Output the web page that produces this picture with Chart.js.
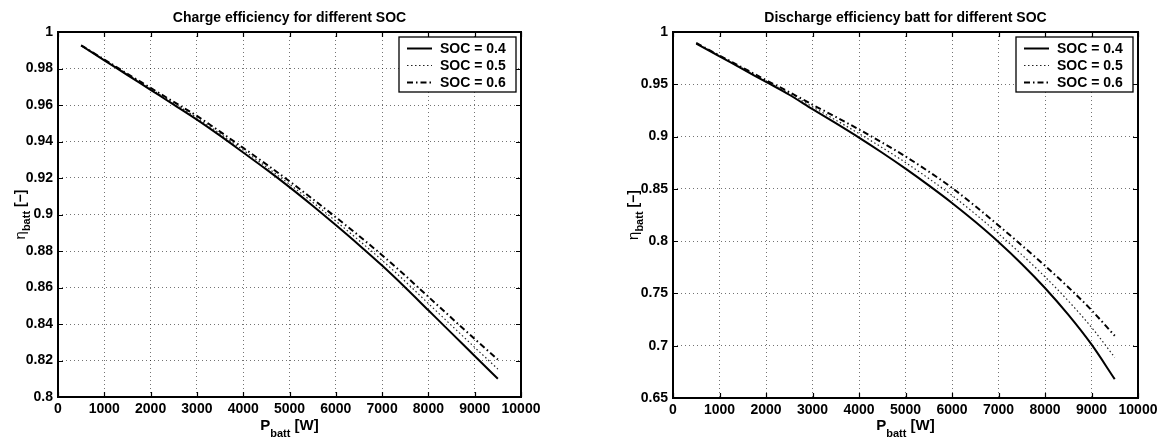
<!DOCTYPE html>
<html>
<head>
<meta charset="utf-8">
<script src="https://cdn.jsdelivr.net/npm/chart.js@4.4.0/dist/chart.umd.min.js"></script>
<style>
  html, body { margin: 0; padding: 0; background: #fff; }
  #wrap { position: relative; width: 1168px; height: 438px; }
  #wrap canvas { position: absolute; top: 0; }
</style>
</head>
<body>
<div id="wrap">
  <canvas id="chargeChart" width="584" height="438" style="left:0"></canvas>
  <canvas id="dischargeChart" width="584" height="438" style="left:584px"></canvas>
</div>
<script>
// battery power [W]
const powerW = [500, 1000, 1500, 2000, 2500, 3000, 3500, 4000, 4500, 5000,
                5500, 6000, 6500, 7000, 7500, 8000, 8500, 9000, 9500];

// charge efficiency per state of charge
const chargeSoc04 = [0.9926, 0.9845, 0.9764, 0.9683, 0.9602, 0.9520, 0.9432, 0.9340, 0.9247, 0.9150,
                     0.9048, 0.8942, 0.8833, 0.8720, 0.8600, 0.8475, 0.8350, 0.8225, 0.8100];
const chargeSoc05 = [0.9927, 0.9847, 0.9768, 0.9689, 0.9610, 0.9530, 0.9443, 0.9353, 0.9261, 0.9166,
                     0.9067, 0.8964, 0.8858, 0.8749, 0.8633, 0.8512, 0.8392, 0.8272, 0.8153];
const chargeSoc06 = [0.9927, 0.9849, 0.9771, 0.9694, 0.9617, 0.9540, 0.9454, 0.9365, 0.9275, 0.9182,
                     0.9085, 0.8985, 0.8883, 0.8777, 0.8665, 0.8549, 0.8433, 0.8318, 0.8205];

// discharge efficiency per state of charge
const dischargeSoc04 = [0.9890, 0.9767, 0.9645, 0.9522, 0.9400, 0.9262, 0.9128, 0.8990, 0.8845, 0.8693,
                        0.8533, 0.8365, 0.8185, 0.7992, 0.7782, 0.7552, 0.7297, 0.7012, 0.6680];
const dischargeSoc05 = [0.9893, 0.9771, 0.9652, 0.9531, 0.9413, 0.9284, 0.9158, 0.9029, 0.8894, 0.8752,
                        0.8599, 0.8438, 0.8260, 0.8071, 0.7871, 0.7659, 0.7429, 0.7176, 0.6888];
const dischargeSoc06 = [0.9895, 0.9775, 0.9658, 0.9540, 0.9425, 0.9305, 0.9188, 0.9068, 0.8942, 0.8810,
                        0.8665, 0.8510, 0.8335, 0.8150, 0.7960, 0.7765, 0.7560, 0.7340, 0.7095];

const socLabels = ['SOC = 0.4', 'SOC = 0.5', 'SOC = 0.6'];

// axis ticks
const powerTicks = [0, 1000, 2000, 3000, 4000, 5000, 6000, 7000, 8000, 9000, 10000];
const chargeTicks = [0.8, 0.82, 0.84, 0.86, 0.88, 0.9, 0.92, 0.94, 0.96, 0.98, 1];
const dischargeTicks = [0.65, 0.7, 0.75, 0.8, 0.85, 0.9, 0.95, 1];

const FONT = "'Liberation Sans', Arial, Helvetica, sans-serif";

// line styles: solid, dotted, dash-dot
const lineStyles = [
  { color: '#000', width: 2, dash: [] },
  { color: '#222', width: 1.2, dash: [1.5, 2.5] },
  { color: '#000', width: 2, dash: [6, 3, 1.5, 3] }
];

// draw a run of text pieces (base text + subscript) centred on cx
function drawPieces(ctx, pieces, cx, baseY) {
  let total = 0;
  pieces.forEach(p => { ctx.font = p.font; p.w = ctx.measureText(p.text).width; total += p.w; });
  let x = cx - total / 2;
  ctx.textAlign = 'left';
  ctx.textBaseline = 'alphabetic';
  pieces.forEach(p => {
    ctx.font = p.font;
    ctx.fillText(p.text, x, baseY + (p.dy || 0));
    x += p.w;
  });
}

const matlabAxes = {
  id: 'matlabAxes',
  afterDraw(chart, args, o) {
    const { ctx, chartArea: a, scales: { x, y } } = chart;
    ctx.save();
    ctx.strokeStyle = '#000';
    ctx.fillStyle = '#000';

    // tick marks pointing into the plot on all four sides
    ctx.lineWidth = 1.2;
    ctx.beginPath();
    x.ticks.forEach(t => {
      const px = Math.round(x.getPixelForValue(t.value)) + 0.5;
      ctx.moveTo(px, a.bottom); ctx.lineTo(px, a.bottom - 5);
      ctx.moveTo(px, a.top); ctx.lineTo(px, a.top + 5);
    });
    y.ticks.forEach(t => {
      const py = Math.round(y.getPixelForValue(t.value)) + 0.5;
      ctx.moveTo(a.left, py); ctx.lineTo(a.left + 5, py);
      ctx.moveTo(a.right, py); ctx.lineTo(a.right - 5, py);
    });
    ctx.stroke();

    // box
    ctx.lineWidth = 2;
    ctx.strokeRect(a.left, a.top, a.right - a.left, a.bottom - a.top);

    // title
    ctx.font = 'bold 14px ' + FONT;
    ctx.textAlign = 'center';
    ctx.textBaseline = 'alphabetic';
    ctx.fillText(o.title, (a.left + a.right) / 2, 22);

    // x axis title: P_batt [W]
    drawPieces(ctx, [
      { text: 'P', font: 'bold 15px ' + FONT },
      { text: 'batt', font: 'bold 11px ' + FONT, dy: 7 },
      { text: ' [W]', font: 'bold 15px ' + FONT }
    ], (a.left + a.right) / 2, 430);

    // y axis title: eta_batt [-]
    ctx.save();
    ctx.translate(o.yTitleX, (a.top + a.bottom) / 2);
    ctx.rotate(-Math.PI / 2);
    drawPieces(ctx, [
      { text: 'η', font: '15px ' + FONT },
      { text: 'batt', font: 'bold 11px ' + FONT, dy: 5 },
      { text: ' [−]', font: 'bold 14px ' + FONT }
    ], 0, 0);
    ctx.restore();

    // legend in the upper right corner
    const bw = 117, bh = 55;
    const bx = a.right - 5 - bw, by = a.top + 5;
    ctx.fillStyle = '#fff';
    ctx.fillRect(bx, by, bw, bh);
    ctx.lineWidth = 1.3;
    ctx.strokeStyle = '#000';
    ctx.strokeRect(bx, by, bw, bh);
    ctx.font = 'bold 14px ' + FONT;
    ctx.textAlign = 'left';
    ctx.textBaseline = 'middle';
    chart.data.datasets.forEach((ds, i) => {
      const ry = Math.round(by + 11 + i * 17) + 0.5;
      ctx.save();
      ctx.strokeStyle = ds.borderColor;
      ctx.lineWidth = ds.borderWidth;
      ctx.setLineDash(ds.borderDash);
      ctx.beginPath();
      ctx.moveTo(bx + 8, ry); ctx.lineTo(bx + 33, ry);
      ctx.stroke();
      ctx.restore();
      ctx.fillStyle = '#000';
      ctx.fillText(ds.label, bx + 41, ry + 1);
    });
    ctx.restore();
  }
};

function makeChart(id, series, yTicks, opts) {
  const datasets = series.map((vals, i) => ({
    label: socLabels[i],
    data: powerW.map((p, k) => ({ x: p, y: vals[k] })),
    borderColor: lineStyles[i].color,
    borderWidth: lineStyles[i].width,
    borderDash: lineStyles[i].dash,
    pointRadius: 0,
    fill: false,
    cubicInterpolationMode: 'monotone'
  }));

  const tickFont = { family: FONT, size: 14, weight: 'bold' };
  const grid = { color: 'rgba(0,0,0,0.55)', lineWidth: 1, drawTicks: false };
  const border = { display: false, dash: [1, 3] };

  return new Chart(document.getElementById(id), {
    type: 'line',
    data: { datasets },
    options: {
      responsive: false,
      animation: false,
      layout: { padding: { top: opts.top, right: opts.right, left: 0, bottom: 0 } },
      plugins: {
        legend: { display: false },
        tooltip: { enabled: false },
        matlabAxes: { title: opts.title, yTitleX: opts.yTitleX }
      },
      scales: {
        x: {
          type: 'linear',
          min: powerTicks[0],
          max: powerTicks[powerTicks.length - 1],
          afterBuildTicks: s => { s.ticks = powerTicks.map(v => ({ value: v })); },
          afterFit: s => { s.height = opts.xHeight; },
          ticks: { color: '#000', font: tickFont, padding: 4, autoSkip: false, maxRotation: 0,
                   callback: v => String(v) },
          grid, border
        },
        y: {
          type: 'linear',
          min: yTicks[0],
          max: yTicks[yTicks.length - 1],
          afterBuildTicks: s => { s.ticks = yTicks.map(v => ({ value: v })); },
          afterFit: s => { s.width = opts.yWidth; },
          ticks: { color: '#000', font: tickFont, padding: 5,
                   callback: v => String(Number(v.toFixed(2))) },
          grid, border
        }
      }
    },
    plugins: [matlabAxes]
  });
}

makeChart('chargeChart', [chargeSoc04, chargeSoc05, chargeSoc06], chargeTicks, {
  title: 'Charge efficiency for different SOC',
  top: 32, right: 63, yWidth: 58, xHeight: 41, yTitleX: 25
});

makeChart('dischargeChart', [dischargeSoc04, dischargeSoc05, dischargeSoc06], dischargeTicks, {
  title: 'Discharge efficiency batt for different SOC',
  top: 32, right: 30, yWidth: 89, xHeight: 40, yTitleX: 54
});
</script>
</body>
</html>
